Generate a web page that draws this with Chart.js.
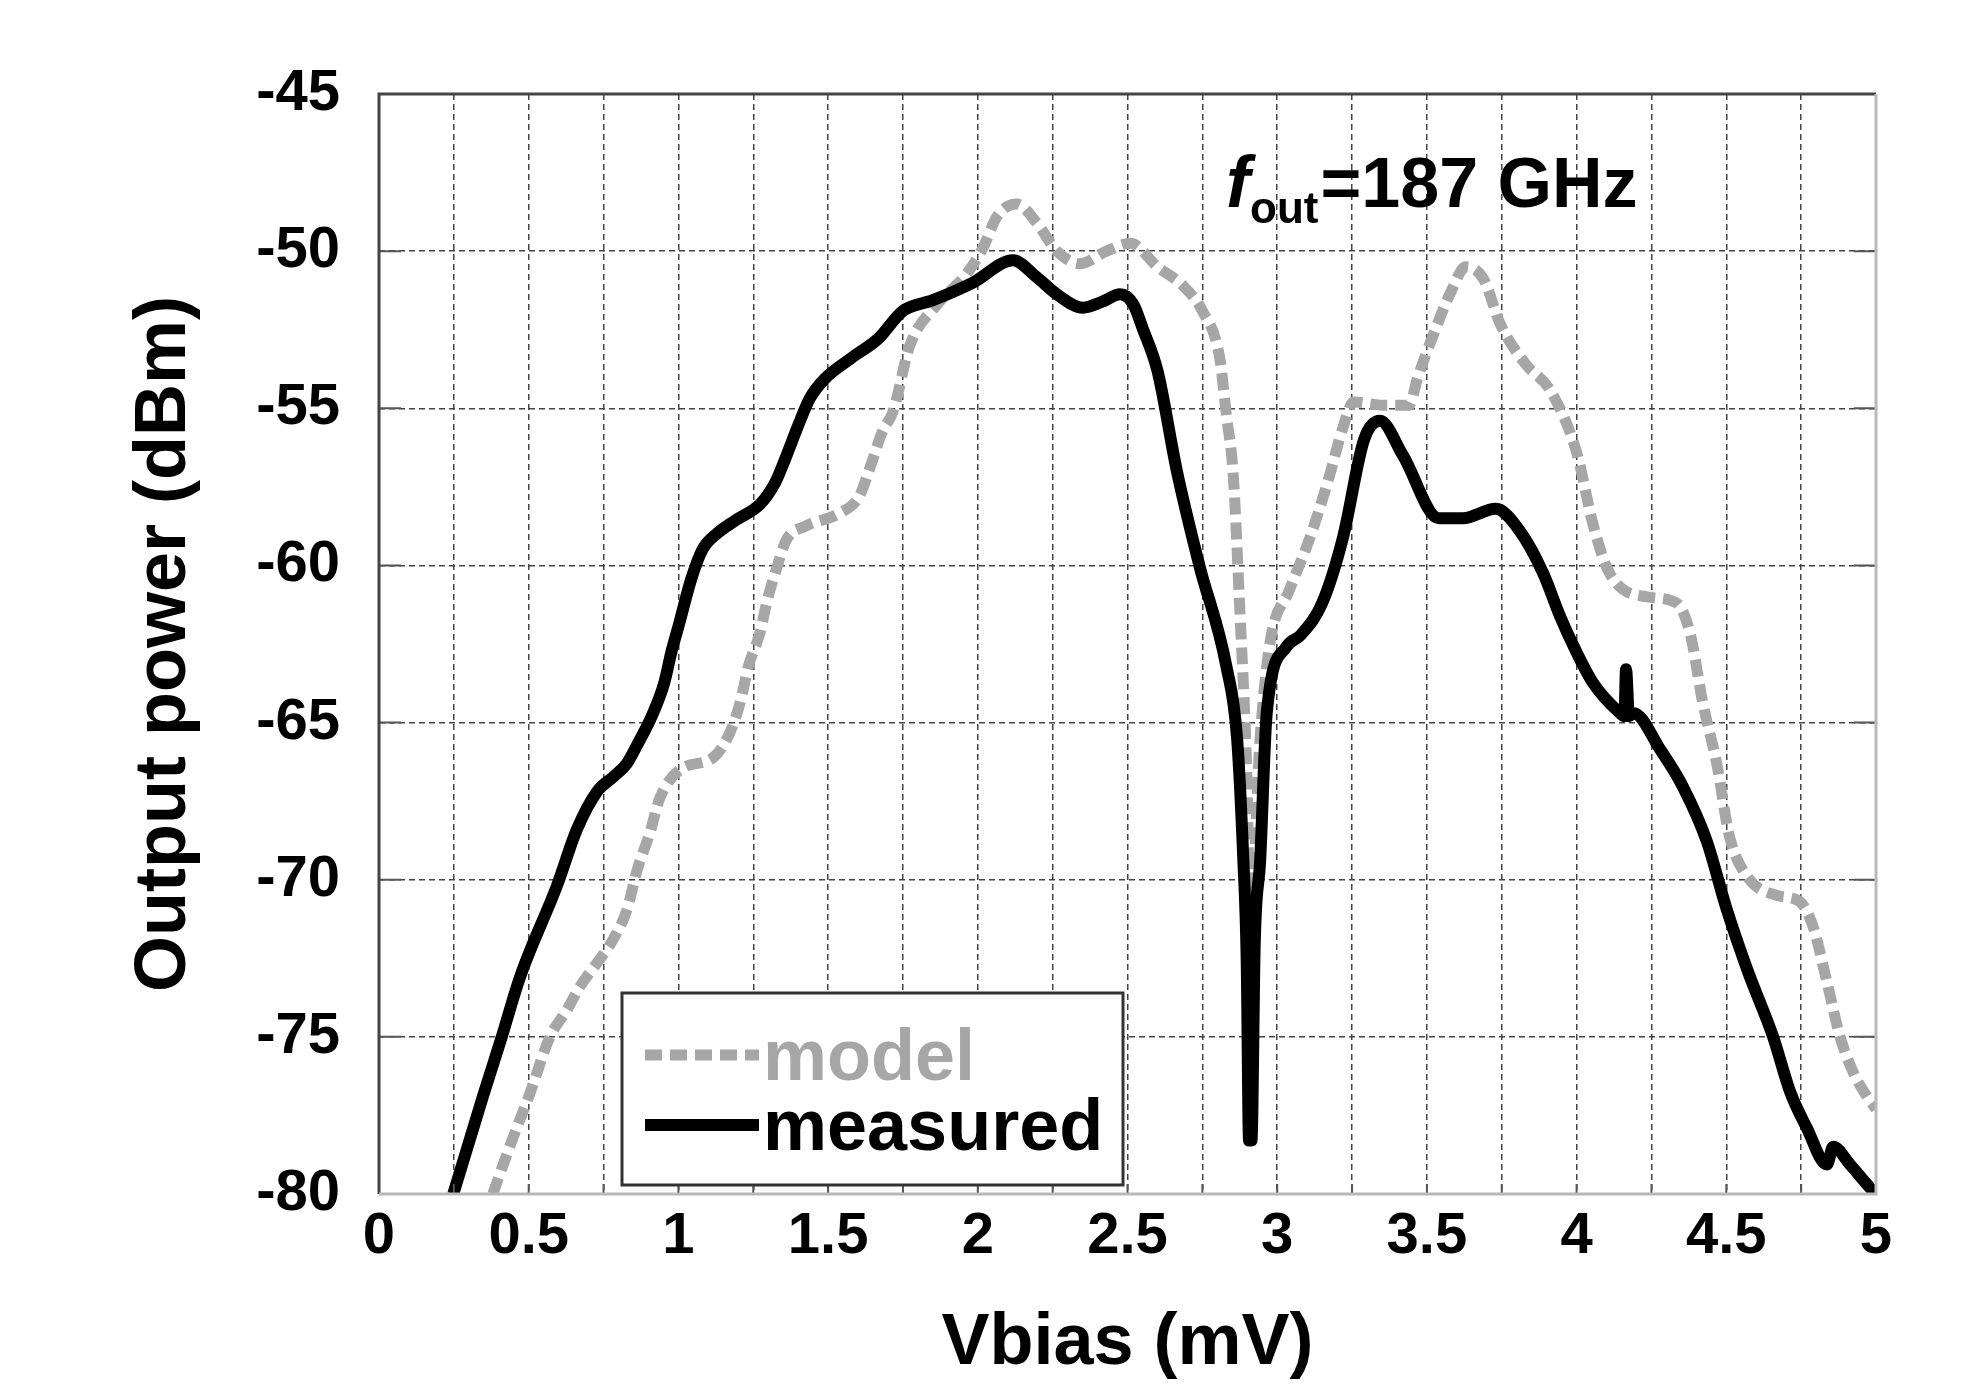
<!DOCTYPE html>
<html>
<head>
<meta charset="utf-8">
<title>Output power vs Vbias</title>
<script src="https://cdn.jsdelivr.net/npm/chart.js@4/dist/chart.umd.min.js"></script>
<style>
  html, body { margin: 0; padding: 0; background: #fff; }
  canvas { display: block; }
</style>
</head>
<body>
<canvas id="powerChart" width="1974" height="1387"></canvas>
<script>
// tick labels
const xTickLabels = ['0', '0.5', '1', '1.5', '2', '2.5', '3', '3.5', '4', '4.5', '5'];
const yTickLabels = ['-80', '-75', '-70', '-65', '-60', '-55', '-50', '-45'];

// model curve
const modelVbias = [0.38, 0.44, 0.504, 0.571, 0.627, 0.671, 0.728, 0.782, 0.828, 0.862, 0.905, 0.938, 1.005, 1.118, 1.17, 1.208,
  1.233, 1.272, 1.297, 1.323, 1.361, 1.425, 1.54, 1.604, 1.642, 1.68, 1.717, 1.773, 1.864, 1.964, 2.017, 2.064,
  2.13, 2.197, 2.264, 2.34, 2.43, 2.51, 2.6, 2.685, 2.75, 2.808, 2.83, 2.853, 2.876, 2.898, 2.91, 2.943, 2.977,
  3.04, 3.11, 3.17, 3.22, 3.255, 3.355, 3.44, 3.47, 3.52, 3.58, 3.63, 3.69, 3.744, 3.83, 3.91, 4.0, 4.055, 4.11,
  4.235, 4.335, 4.38, 4.42, 4.47, 4.51, 4.57, 4.67, 4.746, 4.79, 4.836, 4.88, 4.925, 4.97, 5.0];
const modelPower = [-80, -78.4, -76.8, -75.0, -74.15, -73.4, -72.65, -71.9, -70.96, -69.7, -68.5, -67.4, -66.5, -66.1, -65.36, -64.3,
  -63.23, -62.16, -61.1, -60.25, -59.18, -58.75, -58.33, -57.8, -56.83, -55.77, -55.1, -53.0, -51.7, -50.7, -49.9, -48.9,
  -48.5, -49.1, -50.0, -50.4, -50.0, -49.75, -50.5, -51.1, -51.9, -53.4, -55.2, -57.1, -61.6, -66.5, -71.3, -65.5, -62.4,
  -60.8, -59.1, -57.3, -55.6, -54.8, -54.9, -54.9, -54.0, -52.7, -51.3, -50.5, -50.9, -52.3, -53.6, -54.4, -56.4, -58.7, -60.25,
  -61.0, -61.2, -62.2, -64.3, -66.4, -68.6, -69.9, -70.5, -70.7, -71.5, -73.25, -75.0, -76.15, -76.9, -77.3];

// measured curve
const measuredVbias = [0.248, 0.347, 0.41, 0.471, 0.594, 0.661, 0.728, 0.786, 0.828, 0.863, 0.914, 0.952, 0.978, 1.003,
  1.042, 1.08, 1.131, 1.195, 1.272, 1.323, 1.361, 1.4, 1.438, 1.489, 1.578, 1.668, 1.75, 1.85, 1.984, 2.117, 2.197,
  2.264, 2.351, 2.418, 2.475, 2.52, 2.55, 2.6, 2.665, 2.74, 2.83, 2.866, 2.887, 2.898, 2.906, 2.914, 2.925, 2.943,
  2.965, 3.03, 3.08, 3.15, 3.22, 3.29, 3.343, 3.42, 3.54, 3.62, 3.73, 3.81, 3.888, 3.944, 3.99, 4.055, 4.145,
  4.16, 4.165, 4.175, 4.19, 4.28, 4.355, 4.435, 4.5, 4.57, 4.656, 4.713, 4.769, 4.836, 4.857, 4.913, 4.98, 5.0];
const measuredPower = [-80, -76.9, -75.0, -73.1, -70.2, -68.4, -67.2, -66.7, -66.3, -65.7, -64.73, -63.76, -62.7, -61.84,
  -60.46, -59.5, -58.97, -58.54, -58.06, -57.37, -56.51, -55.55, -54.7, -54.06, -53.4, -52.78, -51.9, -51.56, -51.0, -50.29, -50.83,
  -51.37, -51.8, -51.6, -51.37, -51.7, -52.44, -53.8, -57.0, -60.0, -63.2, -65.5, -69.4, -72.5, -78.3, -78.3, -72.0, -69.4,
  -64.7, -62.6, -62.2, -61.2, -59.1, -56.0, -55.4, -56.5, -58.5, -58.5, -58.2, -58.9, -60.24, -61.6, -62.57, -63.74, -64.7,
  -64.8, -63.3, -64.8, -64.7, -65.87, -67.04, -68.78, -70.9, -72.86, -74.99, -76.74, -77.9, -79.06, -78.5, -79.06, -79.8, -80];

const FONT = "'Liberation Sans', Arial, sans-serif";
const MODEL_COLOR = '#a6a6a6';
const MODEL_DASH = [17, 8];

const toPoints = (xs, ys) => xs.map((x, i) => ({ x: x, y: ys[i] }));

// box around the plot + short inward ticks
const framePlugin = {
  id: 'frame',
  afterDatasetsDraw(chart) {
    const { ctx, chartArea: a, scales } = chart;
    ctx.save();
    ctx.lineWidth = 2;
    ctx.strokeStyle = '#555';
    scales.y.ticks.forEach(t => {
      const y = scales.y.getPixelForValue(t.value);
      ctx.beginPath();
      ctx.moveTo(a.left, y); ctx.lineTo(a.left + 22, y);
      ctx.moveTo(a.right, y); ctx.lineTo(a.right - 22, y);
      ctx.stroke();
    });
    scales.x.ticks.forEach(t => {
      const x = scales.x.getPixelForValue(t.value);
      ctx.beginPath();
      ctx.moveTo(x, a.bottom); ctx.lineTo(x, a.bottom - 10);
      ctx.stroke();
    });
    ctx.lineWidth = 3;
    ctx.strokeStyle = '#444';
    ctx.beginPath();
    ctx.moveTo(a.left, a.bottom); ctx.lineTo(a.left, a.top); ctx.lineTo(a.right, a.top);
    ctx.stroke();
    ctx.strokeStyle = '#b8b8b8';
    ctx.beginPath();
    ctx.moveTo(a.left, a.bottom); ctx.lineTo(a.right, a.bottom); ctx.lineTo(a.right, a.top);
    ctx.stroke();
    ctx.restore();
  }
};

// legend box at lower left of the plot
const legendPlugin = {
  id: 'legendBox',
  afterDraw(chart) {
    const ctx = chart.ctx;
    const ds = chart.data.datasets;
    ctx.save();
    ctx.fillStyle = '#fff';
    ctx.fillRect(622, 993, 501, 192);
    ctx.lineWidth = 3;
    ctx.strokeStyle = '#333';
    ctx.strokeRect(622, 993, 501, 192);

    const rows = [
      { ds: ds[1], y: 1055 },
      { ds: ds[0], y: 1125 }
    ];
    rows.forEach(r => {
      ctx.beginPath();
      ctx.strokeStyle = r.ds.borderColor;
      ctx.lineWidth = r.ds.borderWidth;
      ctx.setLineDash(r.ds.borderDash || []);
      ctx.moveTo(645, r.y);
      ctx.lineTo(759, r.y);
      ctx.stroke();
      ctx.setLineDash([]);
      ctx.fillStyle = r.ds.borderColor;
      ctx.font = 'bold 72px ' + FONT;
      ctx.textBaseline = 'alphabetic';
      ctx.fillText(r.ds.label, 763, r.y + 25);
    });
    ctx.restore();
  }
};

// f_out = 187 GHz note
const notePlugin = {
  id: 'note',
  afterDraw(chart) {
    const ctx = chart.ctx;
    ctx.save();
    ctx.fillStyle = '#000';
    ctx.textBaseline = 'alphabetic';
    ctx.font = 'italic bold 72px ' + FONT;
    ctx.fillText('f', 1226, 207);
    ctx.font = 'bold 44px ' + FONT;
    ctx.fillText('out', 1250, 223);
    const w = ctx.measureText('out').width;
    ctx.font = 'bold 70px ' + FONT;
    ctx.fillText('=187 GHz', 1250 + w + 2, 207);
    ctx.restore();
  }
};

const chart = new Chart(document.getElementById('powerChart'), {
  type: 'line',
  data: {
    datasets: [
      {
        label: 'measured',
        data: toPoints(measuredVbias, measuredPower),
        borderColor: '#000',
        borderWidth: 12,
        pointRadius: 0,
        cubicInterpolationMode: 'monotone',
        order: 0
      },
      {
        label: 'model',
        data: toPoints(modelVbias, modelPower),
        borderColor: MODEL_COLOR,
        borderWidth: 11,
        borderDash: MODEL_DASH,
        pointRadius: 0,
        cubicInterpolationMode: 'monotone',
        order: 1
      }
    ]
  },
  options: {
    responsive: false,
    animation: false,
    devicePixelRatio: 1,
    layout: { padding: { left: 0, right: 98, top: 94, bottom: 0 } },
    plugins: {
      legend: { display: false },
      tooltip: { enabled: false }
    },
    scales: {
      x: {
        type: 'linear',
        min: 0,
        max: 5,
        afterFit: s => { s.height = 193; },
        grid: { color: '#444', lineWidth: 1.5, drawTicks: false },
        border: { display: false, dash: [6, 4] },
        ticks: {
          stepSize: 0.25,
          maxTicksLimit: 30,
          autoSkip: false,
          maxRotation: 0,
          padding: 8,
          color: '#000',
          font: { family: FONT, size: 58, weight: 'bold' },
          callback: v => {
            const i = Math.round(v / 0.5);
            return Math.abs(v - i * 0.5) < 1e-6 ? xTickLabels[i] : '';
          }
        },
        title: {
          display: true,
          text: 'Vbias (mV)',
          color: '#000',
          font: { family: FONT, size: 72, weight: 'bold' },
          padding: { top: 0, bottom: 0 }
        }
      },
      y: {
        min: -80,
        max: -45,
        afterFit: s => { s.width = 379; },
        grid: { color: '#444', lineWidth: 1.5, drawTicks: false },
        border: { display: false, dash: [6, 4] },
        ticks: {
          stepSize: 5,
          padding: 39,
          color: '#000',
          font: { family: FONT, size: 58, weight: 'bold' },
          callback: v => yTickLabels[Math.round((v + 80) / 5)]
        },
        title: {
          display: true,
          text: 'Output power (dBm)',
          color: '#000',
          font: { family: FONT, size: 72, weight: 'bold' },
          padding: { top: 122, bottom: 0 }
        }
      }
    }
  },
  plugins: [framePlugin, legendPlugin, notePlugin]
});
</script>
</body>
</html>
